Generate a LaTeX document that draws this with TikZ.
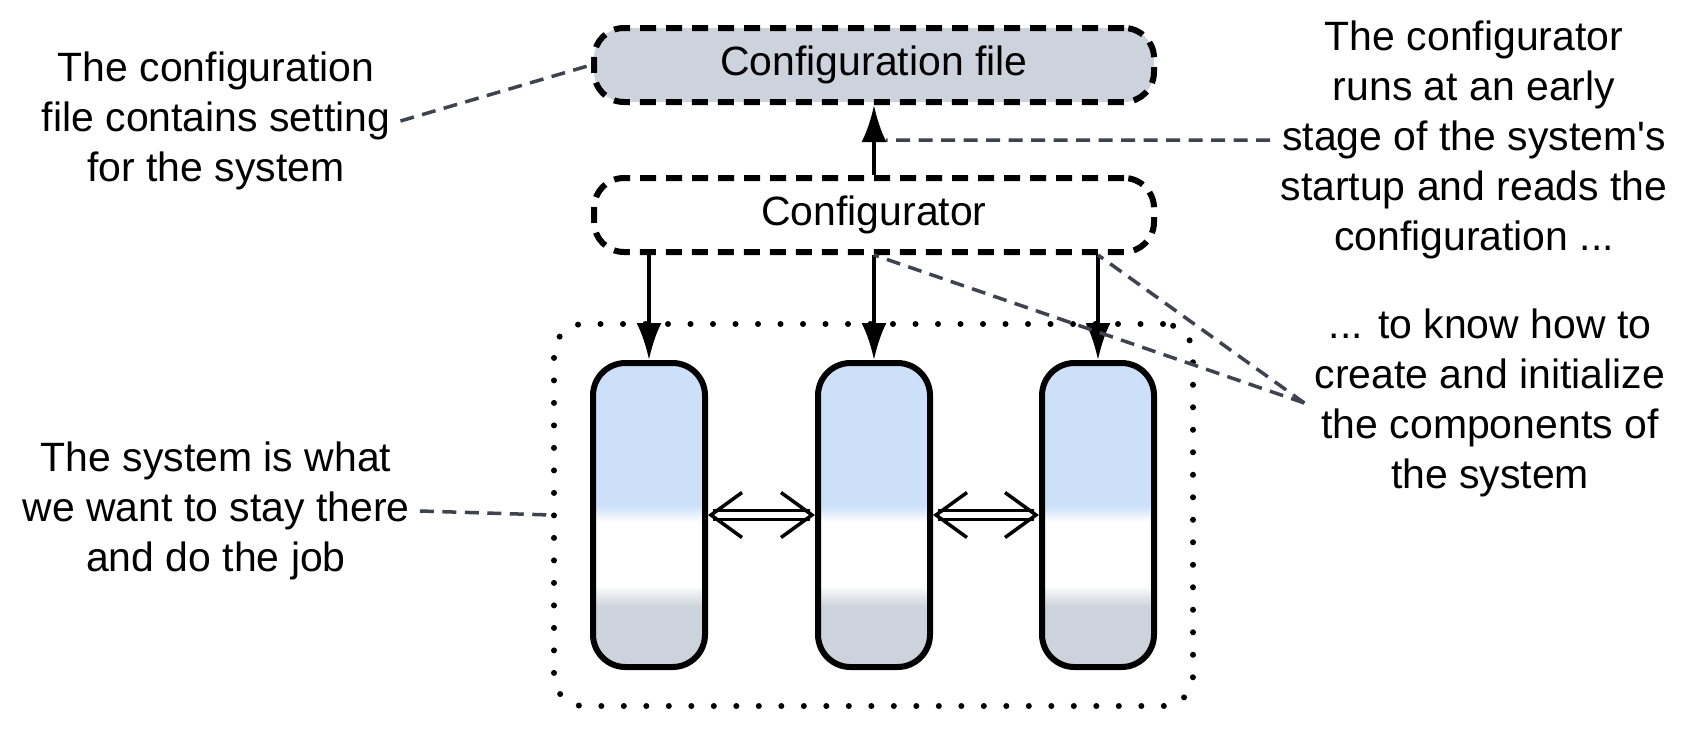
\documentclass[tikz,border=0pt]{standalone}
\usepackage{fontspec}
\setmainfont{Liberation Sans}
\usepackage{tikz}
\usetikzlibrary{arrows.meta, positioning, fit}
\definecolor{boxblue}{HTML}{CCE0FA}
\definecolor{boxgray}{HTML}{CDD3DC}
\definecolor{leadgray}{HTML}{3D4450}
\pgfdeclareverticalshading{compshade}{100bp}{color(0bp)=(boxgray); color(25bp)=(boxgray); color(35bp)=(boxgray); color(38.5bp)=(white); color(48.8bp)=(white); color(51.6bp)=(boxblue); color(75bp)=(boxblue); color(100bp)=(boxblue)}

\begin{document}
\begin{tikzpicture}[>=Latex, font=\fontsize{23.3pt}{28.4pt}\selectfont, flow/.style={draw=black, line width=0.08cm, -{Latex[length=0.74cm,width=0.5cm]}}, leader/.style={draw=leadgray, line width=0.07cm, dash pattern=on 0.28cm off 0.17cm}, link/.style={double, line width=0.05cm, double distance=0.13cm, {Straight Barb[length=0.62cm,width=0.9cm,line width=0.07cm]}-{Straight Barb[length=0.62cm,width=0.9cm,line width=0.07cm]}}]
% Define styles for boxes, notes and the system frame
\tikzstyle{cfgbox} = [draw, rectangle, rounded corners=0.6cm, minimum width=11.2cm, minimum height=1.48cm, line width=0.12cm, dash pattern=on 0.32cm off 0.2cm]
\tikzstyle{comp} = [draw, rectangle, rounded corners=0.65cm, minimum width=2.24cm, minimum height=6.08cm, line width=0.12cm, shading=compshade]
\tikzstyle{note} = [align=center, inner sep=0.2cm]
\tikzstyle{sysframe} = [draw, rectangle, rounded corners=0.6cm, line width=0.12cm, line cap=round, dash pattern=on 0pt off 0.45cm, inner sep=0.72cm]

\useasboundingbox (0,0) rectangle (33.86,-14.66);

% Nodes placement
\node [cfgbox, fill=boxgray] (cfgfile) at (17.48,-1.3) {Configuration file};
\node [cfgbox, fill=white, below of=cfgfile, node distance=3cm] (cfgr) {Configurator};
\node [comp, below of=cfgr, node distance=6cm] (comp2) {};
\node [comp, left of=comp2, node distance=4.5cm] (comp1) {};
\node [comp, right of=comp2, node distance=4.48cm] (comp3) {};

% The system round the components
\node [sysframe, fit=(comp1)(comp3)] (system) {};

% Notes
\node [note] (filenote) at (4.32,-2.42) {The configuration\\file contains setting\\for the system};
\node [note] (sysnote) at (4.32,-10.22) {The system is what\\we want to stay there\\and do the job};
\node [note] (cfgrnote) at (29.48,-2.8) {The configurator\\runs at an early\\stage of the system\textquotesingle s\\startup and reads the\\configuration ...};
\node [note] (compnote) at (29.8,-8.06) {... to know how to\\create and initialize\\the components of\\the system};

% Draw edges
\draw [flow] (cfgr.north) -- coordinate[midway] (readpt) (cfgfile.south);
\draw [flow] (cfgr.south -| comp1.north) -- (comp1.north);
\draw [flow] (cfgr.south) -- (comp2.north);
\draw [flow] (cfgr.south -| comp3.north) -- (comp3.north);
\draw [link] (comp1.east) -- (comp2.west);
\draw [link] (comp2.east) -- (comp3.west);

% Leaders from the notes
\draw [leader] (filenote.east) -- (cfgfile.west);
\draw [leader] (sysnote.east) -- (system.west);
\draw [leader] (cfgrnote.west) -- ([xshift=0.24cm]readpt);
\draw [leader] (compnote.west) -- (cfgr.south);
\draw [leader] (compnote.west) -- (cfgr.south -| comp3.north);
\end{tikzpicture}
\end{document}
